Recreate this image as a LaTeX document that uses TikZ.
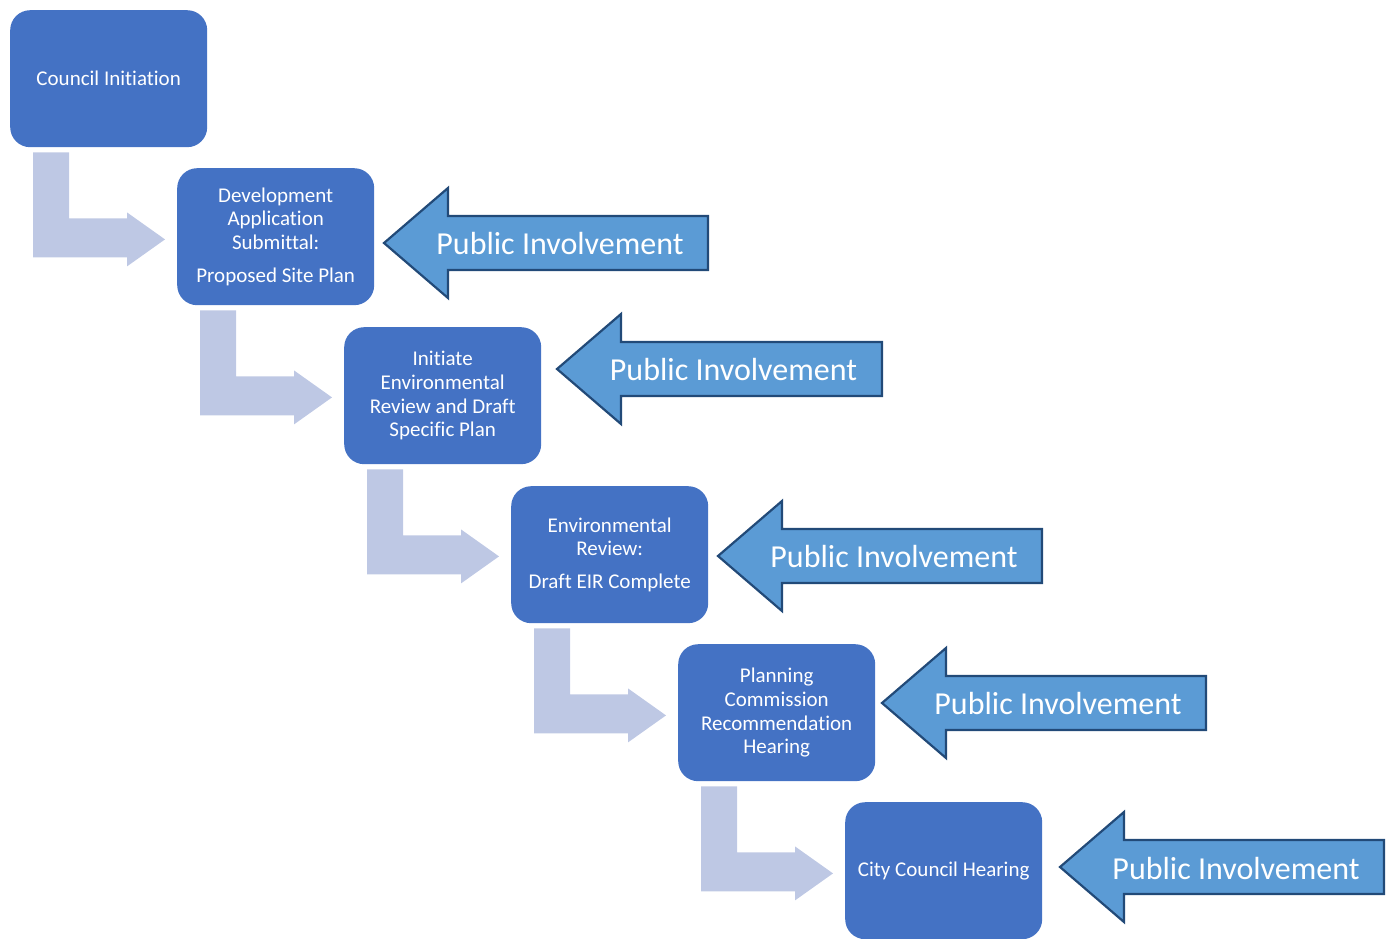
\documentclass[tikz,border=0pt]{standalone}
\usepackage{fontspec}
\setmainfont[Ligatures=NoCommon]{Carlito}
\usetikzlibrary{calc}
\definecolor{boxblue}{HTML}{4472C4}
\definecolor{lightarr}{RGB}{190,200,228}
\definecolor{pifill}{HTML}{5B9BD5}
\definecolor{piedge}{HTML}{224A78}
\tikzset{
  stepbox/.style={fill=boxblue, draw=none, rounded corners=20pt, minimum width=197pt, minimum height=137pt, anchor=north west, text=white, align=center, font=\fontsize{21}{23.8}\selectfont, inner sep=0pt},
  bent/.style={fill=lightarr, draw=none},
  piarrow/.style={fill=pifill, draw=piedge, line width=2.2pt, line join=miter},
  pitext/.style={text=white, font=\fontsize{32}{36}\selectfont, inner sep=0pt}
}
\begin{document}
\begin{tikzpicture}[x=1pt,y=-1pt]
\useasboundingbox (0,0) rectangle (1387,939);
% boxes
\node[stepbox] (b0) at (10,10) {Council Initiation};
\node[stepbox] (b1) at (177,168) {Development\\Application\\Submittal:\\[9pt]Proposed Site Plan};
\node[stepbox] (b2) at (344,327) {Initiate\\Environmental\\Review and Draft\\Specific Plan};
\node[stepbox] (b3) at (511,486) {Environmental\\Review:\\[9pt]Draft EIR Complete};
\node[stepbox] (b4) at (678,644) {Planning\\Commission\\Recommendation\\Hearing};
\node[stepbox] (b5) at (845,802) {City Council Hearing};
% bent connectors
\foreach \i in {0,...,4}{
  \fill[bent] ($(b\i.south west)+(23,5)$) -- ($(b\i.south west)+(59,5)$) -- ($(b\i.south west)+(59,71)$) -- ($(b\i.south west)+(117,71)$) -- ($(b\i.south west)+(117,65)$) -- ($(b\i.south west)+(155,92)$) -- ($(b\i.south west)+(117,119)$) -- ($(b\i.south west)+(117,110)$) -- ($(b\i.south west)+(23,110)$) -- cycle;
}
% public involvement arrows: tip x, tip y, right x
\foreach \n/\tx/\ty/\rx in {1/384/243/708, 2/557/369/882, 3/718/556/1042, 4/882/703/1206, 5/1060/867/1384}{
  \draw[piarrow] (\tx,\ty) -- (\tx+64,\ty-55) -- (\tx+64,\ty-27) -- (\rx,\ty-27) -- (\rx,\ty+27) -- (\tx+64,\ty+27) -- (\tx+64,\ty+55) -- cycle;
  \node[pitext] (pi\n) at ({(\tx+\rx)/2+14},\ty+1) {Public Involvement};
}
\end{tikzpicture}
\end{document}
